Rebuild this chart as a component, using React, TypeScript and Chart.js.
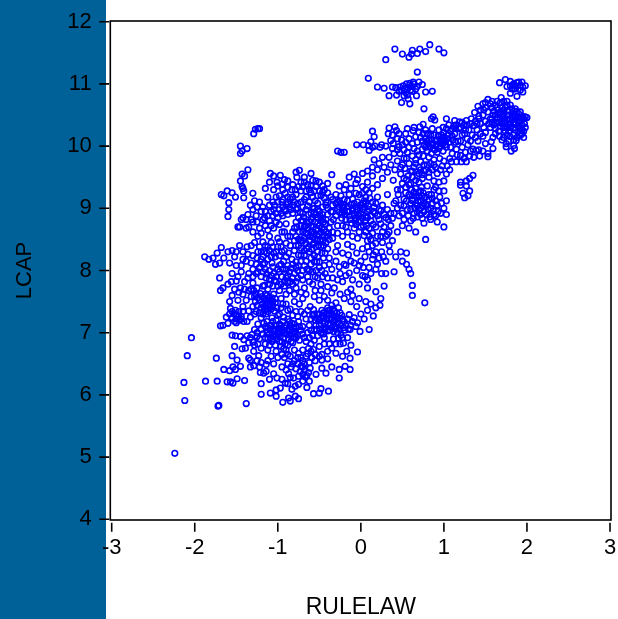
import React, { useEffect, useRef } from "react";
import { Chart, registerables } from "chart.js";

Chart.register(...registerables);

type P = [number, number];

const xTicks = [-3, -2, -1, 0, 1, 2, 3];
const yTicks = [4, 5, 6, 7, 8, 9, 10, 11, 12];

const lowLeft: P[] = [[-2.24,5.06],[-2.04,6.92],[-2.09,6.63],[-2.13,6.20],[-2.12,5.91],[-1.87,6.22],[-1.74,6.59],[-1.73,6.22],[-1.61,6.21],[-1.57,6.21],[-1.54,6.19],[-1.49,6.26],[-1.40,6.23],[-1.71,5.83],[-1.72,5.82],[-1.38,5.86],[-1.65,6.41],[-1.58,6.39],[-1.54,6.45],[-1.49,6.56],[-1.45,6.46],[-1.51,6.41],[-1.55,6.63],[-1.52,6.78],[-1.55,6.96],[-1.51,6.95],[-1.45,6.94],[-1.37,6.95],[-1.31,6.97],[-1.25,6.94],[-1.41,6.89],[-1.35,6.84],[-1.39,6.75],[-1.43,6.74],[-1.29,6.70],[-1.23,6.63],[-1.35,6.59],[-1.33,6.56],[-1.33,6.45],[-1.29,6.47],[-1.14,6.49],[-1.21,6.36],[-1.17,6.35],[-1.14,6.38],[-1.05,6.34],[-1.10,6.25],[-1.20,6.18],[-1.20,6.01],[-1.09,6.03],[-1.02,5.98],[-1.02,6.08],[-0.97,6.11],[-1.01,6.27],[-0.95,6.25],[-0.91,6.19],[-0.87,6.34],[-0.81,6.27],[-0.79,6.14],[-0.73,6.38],[-0.67,6.29],[-0.65,6.12],[-0.75,6.17],[-0.83,6.09],[-0.79,5.98],[-0.75,5.94],[-0.87,5.95],[-0.85,5.90],[-0.94,5.88],[-0.57,6.02],[-0.50,6.03],[-0.48,6.10],[-0.39,6.06],[-0.26,6.27],[-0.26,6.41],[-0.19,6.46],[-0.13,6.41],[-0.04,6.69],[-0.47,6.43],[-0.42,6.35],[-0.54,6.33],[-0.61,6.43],[-0.65,6.31],[-0.13,6.59],[-0.17,6.70],[-0.21,6.83],[-0.27,6.91],[-0.30,6.67],[-0.47,6.65],[-0.47,6.56],[-0.55,6.65],[-0.57,6.73],[-0.70,6.33],[-0.68,6.40],[-0.63,6.36],[-0.59,6.60],[-0.62,6.52],[-0.66,6.62],[-0.70,6.72],[-0.75,6.67],[-0.80,6.55],[-0.95,6.65],[-0.90,6.72],[-1.02,6.70],[-1.08,6.62],[-1.12,6.72],[-0.22,6.62],[-0.35,6.75],[-0.40,6.70],[-0.44,6.82]];

const midLow: P[] = [[-1.17,7.15],[-1.12,7.08],[-1.10,6.98],[-1.15,6.92],[-1.07,6.86],[-1.02,7.12],[-1.00,7.02],[-0.97,6.94],[-0.95,6.85],[-0.92,7.08],[-0.90,6.98],[-0.87,6.90],[-1.05,6.95],[-1.03,6.80],[-0.98,7.00],[-0.96,6.78],[-0.88,6.80],[-0.85,7.05],[-0.80,7.02],[-0.78,6.92],[-0.82,6.84],[-0.74,6.88],[-0.70,6.98],[-0.66,6.86],[-0.62,6.92],[-0.60,6.82],[-0.57,7.37],[-0.53,7.30],[-0.55,7.20],[-0.50,7.12],[-0.56,7.05],[-0.52,6.95],[-0.47,7.36],[-0.44,7.26],[-0.46,7.18],[-0.42,7.08],[-0.45,6.98],[-0.40,7.40],[-0.38,7.30],[-0.36,7.22],[-0.37,7.12],[-0.33,7.02],[-0.35,7.44],[-0.32,7.35],[-0.30,7.26],[-0.28,7.16],[-0.26,7.06],[-0.24,6.96],[-0.25,7.32],[-0.22,7.22],[-0.18,7.12],[-0.14,7.29],[-0.15,7.06],[-0.10,7.18],[-0.06,7.10],[-0.01,7.02],[0.10,7.05],[0.08,7.36],[0.15,7.27],[0.23,7.44],[0.04,7.22],[0.00,7.30],[-0.05,7.42],[-0.12,7.50],[-0.20,7.55],[-0.10,7.60],[-0.30,7.48],[-0.62,7.12],[-0.66,7.22],[-0.70,7.10],[-0.75,7.18],[-0.58,7.28],[-0.61,7.42],[-0.78,7.34],[-0.74,7.46],[-0.83,7.15],[-0.88,7.22],[-0.93,7.25],[-1.00,7.28],[-1.07,7.24],[-1.14,7.30],[-1.20,7.24],[-1.24,7.14],[-1.28,7.05],[-1.21,7.63],[-1.16,7.55],[-1.12,7.45],[-1.08,7.38],[-1.17,7.42],[-1.13,7.60],[-1.09,7.52],[-1.05,7.62],[-1.03,7.48],[-1.01,7.40],[-1.57,7.39],[-1.53,7.30],[-1.50,7.22],[-1.47,7.34],[-1.44,7.26],[-1.41,7.18],[-1.52,7.18],[-1.46,7.20],[-1.62,7.25],[-1.66,7.12],[-1.69,7.11],[-1.60,7.15],[-1.58,7.50],[-1.55,7.60],[-1.35,7.35],[-1.30,7.42],[-1.28,7.30],[-1.33,7.25],[-1.37,7.18],[-1.42,7.42],[-1.38,7.52],[-1.32,7.58],[-1.27,7.50],[-0.96,7.40],[-0.90,7.46],[-0.85,7.38],[-0.80,7.50],[-0.96,7.55],[-0.90,7.62],[-0.70,7.55],[-0.66,7.62],[-0.56,7.58],[-0.50,7.52],[-0.44,7.58],[-0.40,7.52],[-0.80,7.62]];

const midLowDense: P[] = [[-1.19,7.58],[-1.15,7.62],[-1.11,7.56],[-1.14,7.48],[-1.19,7.46],[-1.10,7.42],[-1.06,7.44],[-1.07,7.56],[-1.03,7.55],[-1.16,7.36],[-1.22,7.52],[-1.25,7.44],[-1.13,7.38],[-1.04,7.35],[-1.15,7.10],[-1.13,7.00],[-1.08,7.12],[-1.09,7.04],[-1.05,7.06],[-1.06,6.90],[-1.01,6.90],[-1.02,6.96],[-0.99,7.07],[-0.96,7.12],[-0.94,7.03],[-0.93,6.92],[-0.91,6.82],[-0.89,7.04],[-0.86,6.96],[-0.84,6.86],[-0.85,7.12],[-0.81,7.08],[-0.79,6.98],[-0.76,6.96],[-0.72,7.04],[-0.68,6.92],[-0.64,7.00],[-0.60,7.04],[-0.58,6.95],[-0.54,7.12],[-0.53,7.04],[-0.52,7.22],[-0.50,7.30],[-0.48,7.24],[-0.49,7.06],[-0.45,7.32],[-0.43,7.15],[-0.41,7.22],[-0.40,7.03],[-0.39,7.14],[-0.37,7.36],[-0.35,7.08],[-0.34,7.28],[-0.33,7.18],[-0.31,7.10],[-0.29,7.32],[-0.28,7.22],[-0.27,7.40],[-0.24,7.12],[-0.23,7.28],[-0.20,7.18],[-0.19,7.04],[-0.16,7.22],[-0.12,7.12],[-0.08,7.24],[-0.04,7.16],[-1.55,7.34],[-1.51,7.36],[-1.49,7.28],[-1.55,7.24],[-1.47,7.26],[-1.42,7.34],[-1.50,7.16],[-1.44,7.22],[-1.58,7.30],[-1.25,7.00],[-1.20,7.05],[-1.22,6.90],[-1.18,6.98],[-1.24,6.82],[-1.20,6.75],[-1.15,6.82],[-1.10,6.80],[-1.30,6.85],[-1.33,6.92],[-1.28,6.80],[-0.98,6.86],[-0.93,6.74],[-1.00,6.60],[-0.92,6.60],[-0.85,6.62],[-0.88,6.50],[-0.80,6.72],[-0.76,6.50],[-0.72,6.60],[-0.68,6.50],[-0.63,6.75],[-0.56,6.88],[-0.50,6.78],[-0.44,6.92],[-0.38,6.82],[-0.33,6.90],[-0.30,6.82],[-0.25,6.82],[-0.22,6.92],[-0.16,6.92],[-0.12,6.80],[-0.40,6.58],[-0.35,6.45],[-0.70,6.22],[-0.62,6.22],[-0.78,6.42],[-0.84,6.45],[-0.90,6.40],[-0.95,6.45],[-0.72,6.46],[-1.18,7.75],[-1.12,7.70],[-1.06,7.75],[-0.98,7.68],[-0.92,7.75],[-0.86,7.68],[-0.78,7.72],[-0.72,7.65],[-1.26,7.62],[-1.35,7.68],[-1.42,7.62],[-1.48,7.52],[-1.47,7.65]];

const centre: P[] = [[-1.68,8.37],[-1.73,8.28],[-1.78,8.20],[-1.83,8.18],[-1.88,8.22],[-1.70,8.12],[-1.65,8.20],[-1.75,8.10],[-1.60,8.30],[-1.55,8.32],[-1.50,8.30],[-1.46,8.40],[-1.42,8.30],[-1.37,8.38],[-1.32,8.40],[-1.28,8.45],[-1.50,8.08],[-1.44,8.08],[-1.38,8.15],[-1.70,7.88],[-1.55,7.95],[-1.50,7.83],[-1.45,7.72],[-1.52,7.70],[-1.60,7.78],[-1.66,7.72],[-1.69,7.68],[-1.40,7.82],[-1.35,7.95],[-1.30,8.02],[-1.25,8.20],[-1.20,8.30],[-1.15,8.40],[-1.10,8.32],[-1.05,8.28],[-1.00,8.38],[-0.95,8.30],[-0.90,8.22],[-0.85,8.40],[-0.80,8.32],[-0.75,8.25],[-1.30,7.80],[-1.25,7.72],[-1.20,7.90],[-1.15,8.02],[-1.10,7.85],[-1.05,7.95],[-1.00,7.75],[-0.95,7.90],[-0.90,8.02],[-0.85,7.82],[-0.80,7.95],[-0.75,8.08],[-0.70,7.85],[-0.65,8.02],[-0.60,8.20],[-0.55,7.90],[-0.50,8.05],[-0.45,8.20],[-0.40,7.88],[-0.35,8.02],[-0.30,8.15],[-0.25,7.95],[-0.20,8.10],[-0.15,8.25],[-0.10,7.85],[-0.05,8.00],[0.00,8.15],[0.05,7.90],[0.10,8.05],[0.15,8.25],[0.20,8.10],[0.25,7.95],[0.30,8.15],[0.35,8.30],[0.42,8.22],[0.50,8.15],[0.55,8.10],[0.58,8.02],[0.60,7.95],[0.62,7.76],[0.62,7.60],[0.77,7.48],[0.40,7.98],[-0.22,7.82],[-0.12,7.70],[-0.02,7.78],[0.08,7.72],[0.18,7.66],[0.28,7.75],[0.24,7.55],[-0.65,8.35],[-0.58,8.42],[-0.52,8.30],[-0.46,8.48],[-0.40,8.35],[-0.34,8.52],[-0.28,8.40],[-0.22,8.55],[-0.16,8.42],[-0.10,8.38],[-0.04,8.52],[0.02,8.35],[0.08,8.48],[0.14,8.40],[0.20,8.55],[0.26,8.45],[0.32,8.58],[0.38,8.48],[0.44,8.62],[-1.35,8.70],[-1.30,8.62],[-1.25,8.78],[-1.20,8.60],[-1.15,8.72],[-1.10,8.55],[-1.05,8.68],[-1.00,8.52],[-0.95,8.62],[-0.90,8.75],[-0.85,8.55],[-0.80,8.68],[-0.75,8.50],[-0.70,8.62],[-0.65,8.78],[-0.62,8.55],[-0.57,8.70],[-0.52,8.85],[-0.48,8.62],[-0.43,8.75],[-0.38,8.68],[-0.33,8.82],[-0.28,8.72],[-0.23,8.90],[-0.18,8.70],[-0.13,8.82],[-0.08,8.68],[-0.03,8.78],[0.02,8.85],[0.07,8.72],[0.12,8.80],[0.17,8.92],[0.24,8.75],[0.30,8.85],[0.36,8.72],[-0.75,8.85],[-0.70,8.80],[-0.68,8.70],[-0.63,8.90],[-0.60,8.82],[-0.58,8.62],[-0.72,8.72],[-0.55,8.78],[-0.66,8.60],[-0.50,8.72],[-0.46,8.90],[-0.42,8.82],[-0.06,8.85],[0.00,8.92],[0.05,8.80],[0.10,8.68],[0.03,8.72],[-0.02,8.62],[0.08,8.85],[-1.29,7.68],[-1.24,7.98],[-1.18,8.10],[-1.12,8.18],[-1.07,8.12],[-1.03,8.22],[-0.98,8.08],[-0.93,8.15],[-0.88,8.08],[-0.83,8.18],[-0.78,8.14],[-0.72,8.15],[-0.68,7.72],[-0.62,7.82],[-0.58,7.98],[-0.53,8.14],[-0.48,7.78],[-0.43,7.95],[-0.38,8.10],[-0.32,7.72],[-0.28,7.85],[-0.18,7.92],[-0.08,8.12],[0.03,8.05],[0.12,7.95]];

const centreDense: P[] = [[-1.08,7.92],[-1.04,7.84],[-1.00,8.02],[-0.96,8.10],[-0.92,7.82],[-0.88,7.92],[-0.84,8.04],[-0.82,7.88],[-0.78,7.82],[-0.76,8.00],[-0.72,7.92],[-0.68,8.08],[-0.64,7.90],[-1.13,7.94],[-1.16,8.12],[-1.22,8.05],[-1.26,8.10],[-1.32,8.12],[-1.36,8.26],[-1.42,8.18],[-1.30,8.24],[-1.18,8.22],[-1.22,8.38],[-1.13,8.28],[-1.08,8.22],[-0.98,8.24],[-0.92,8.32],[-0.87,8.28],[-0.78,8.40],[-0.72,8.36],[-0.68,8.25],[-0.62,8.30],[-0.56,8.24],[-0.60,8.10],[-0.52,8.22],[-0.48,8.38],[-0.43,8.28],[-0.38,8.20],[-0.66,8.44],[-0.62,8.48],[-0.58,8.54],[-0.54,8.38],[-0.52,8.48],[-0.50,8.58],[-0.46,8.55],[-0.42,8.62],[-0.64,8.68],[-0.60,8.72],[-0.56,8.60],[-0.54,8.66],[-0.48,8.80],[-0.44,8.66],[-0.40,8.90],[-0.36,8.78],[-0.74,8.62],[-0.78,8.78],[-0.70,8.92],[-0.66,8.98],[-0.60,8.92],[-0.56,9.00],[-0.54,8.90],[-0.50,8.95],[-0.46,8.84],[-0.42,9.05],[-0.36,8.95],[-0.34,9.05],[-0.30,8.88],[-0.26,8.94],[-0.24,9.08],[-0.20,8.95],[-0.18,8.82],[-0.14,8.94],[-0.12,9.06],[-0.08,8.90],[-0.06,9.02],[-0.02,8.88],[0.02,8.98],[0.06,9.08],[0.08,8.94],[0.12,8.88],[-0.84,8.98],[-0.90,8.96],[-0.96,8.92],[-1.02,8.92],[-1.08,8.95],[-1.12,8.88],[-0.78,8.98],[-0.72,9.10],[-0.68,9.14],[-0.62,9.10],[-0.58,9.18],[-0.52,9.08],[-0.50,9.28],[-0.44,9.16],[-0.40,9.25],[-0.34,9.14],[-0.30,9.22],[-0.26,9.12],[-0.20,9.14],[-0.16,9.12],[-0.10,9.15],[-0.06,9.24],[0.00,9.06],[0.02,9.24],[0.06,9.18],[-0.82,9.18],[-0.88,9.18],[-0.94,9.14],[-1.02,9.18],[-1.06,9.10],[-1.12,9.18],[-1.18,9.02],[-1.05,9.30],[-1.10,9.42],[-0.82,9.38],[-0.70,9.35],[-0.62,9.30],[-0.54,9.44],[-0.44,9.30],[-0.26,9.36],[-0.20,9.30],[-0.12,9.32],[-0.06,9.40],[0.06,9.30],[0.14,9.32],[0.22,8.82],[0.18,8.70],[0.14,8.60],[0.10,8.55],[0.04,8.56],[0.26,8.62],[0.30,8.55],[0.34,8.40],[0.25,8.30],[0.18,8.30],[0.10,8.30],[0.05,8.22],[-0.05,8.28],[-0.12,8.15],[-0.22,8.28],[-0.30,8.30],[-0.18,8.08],[0.30,7.95],[-0.10,8.55],[-0.16,8.62],[-0.22,8.72],[-0.28,8.60],[-0.34,8.62],[-0.38,8.50],[-1.48,8.70],[-1.44,8.82],[-1.30,8.78],[-1.22,8.68],[-1.18,8.82],[-1.12,8.65],[-1.08,8.72],[-1.02,8.78],[-0.98,8.74],[-0.92,8.62],[-0.88,8.55],[-0.82,8.62],[-0.78,8.55],[-1.24,8.55],[-1.18,8.46],[-1.08,8.45],[-0.98,8.46],[-0.90,8.44],[-0.80,8.48],[-0.72,8.48],[-1.44,7.98],[-1.48,7.90],[-1.36,7.88],[-1.32,7.70],[-1.40,7.70],[-1.56,7.82],[-1.52,8.22],[-1.58,8.12]];

const coreFill: P[] = [[-0.68,8.52],[-0.64,8.58],[-0.60,8.62],[-0.55,8.50],[-0.53,8.56],[-0.51,8.40],[-0.49,8.50],[-0.47,8.68],[-0.45,8.40],[-0.42,8.45],[-0.41,8.55],[-0.39,8.60],[-0.63,8.38],[-0.59,8.34],[-0.56,8.44],[-0.50,8.14],[-0.47,8.28],[-0.56,8.14],[-0.62,8.00],[-0.54,8.00],[-0.47,8.00],[-0.44,8.08],[-0.70,8.00],[-0.72,8.24],[-0.75,8.40],[-0.70,8.48],[-0.68,8.32],[-0.66,8.15],[-0.77,8.70],[-0.72,8.80],[-0.69,8.86],[-0.67,8.72],[-0.62,8.78],[-0.58,8.86],[-0.56,8.94],[-0.52,8.76],[-0.49,8.88],[-0.45,8.78],[-0.95,9.10],[-0.92,8.98],[-0.86,9.02],[-0.80,9.10],[-0.76,9.00],[-0.73,8.94],[-1.04,9.05],[-0.98,8.98],[-0.90,9.06],[-0.85,9.15],[-0.79,9.30],[-0.75,9.35],[-0.68,9.42],[-0.66,9.28],[-0.60,9.36],[-0.56,9.28],[-0.52,9.20],[-0.46,9.26],[-0.94,9.30],[-0.88,9.34],[-0.92,9.46],[-1.00,9.36],[-0.28,9.10],[-0.26,9.02],[-0.23,8.84],[-0.21,9.02],[-0.19,8.90],[-0.16,9.03],[-0.14,8.88],[-0.11,8.76],[-0.10,8.96],[-0.07,8.80],[-0.04,8.90],[-0.04,9.10],[-0.01,9.00],[0.00,8.80],[0.03,9.08],[0.06,8.88],[0.09,9.04],[0.11,9.16],[0.15,8.95],[0.18,9.08],[0.20,8.88],[0.24,8.96],[0.15,8.74],[0.06,8.62],[0.00,8.70],[-0.06,8.74],[0.12,8.50],[0.18,8.44],[0.24,8.55],[0.28,8.70],[0.34,8.62],[0.33,8.82],[0.36,8.92],[0.38,8.84],[0.08,8.38],[0.14,8.18],[0.22,8.20],[0.27,8.22],[-1.30,7.90],[-1.26,7.95],[-1.18,7.98],[-1.14,7.88],[-1.10,8.00],[-1.06,8.06],[-1.02,7.90],[-0.98,7.98],[-0.94,8.02],[-0.90,7.88],[-0.86,7.98],[-0.82,8.10],[-0.78,8.05],[-1.24,8.30],[-1.20,8.18],[-1.16,8.30],[-1.12,8.38],[-1.06,8.38],[-1.02,8.30],[-0.96,8.38],[-1.16,7.76],[-1.10,7.78],[-1.02,7.82],[-0.96,7.78],[-0.88,7.80],[-0.82,7.78],[-0.76,7.88],[-1.28,7.58],[-1.24,7.56],[-1.20,7.40],[-1.15,7.52],[-1.12,7.52],[-1.09,7.46],[-1.06,7.50],[-1.12,7.34],[-1.26,7.34],[-1.22,7.32],[-1.18,7.30],[-0.98,7.30],[-0.94,7.46],[-0.88,7.36],[-0.82,7.28],[-0.76,7.26],[-0.72,7.34],[-0.68,7.30],[-0.64,7.36],[-0.60,7.22],[-0.56,7.30],[-1.13,7.18],[-1.10,7.12],[-1.06,7.18],[-1.02,7.20],[-0.98,7.14],[-0.94,7.18],[-0.90,7.12],[-0.86,7.18],[-0.80,7.14],[-1.12,6.90],[-1.09,6.92],[-1.04,7.02],[-1.00,6.98],[-0.97,7.06],[-0.92,7.00],[-0.87,7.02],[-0.83,6.98],[-0.82,6.92],[-0.78,7.08],[-0.74,7.10],[-0.50,7.20],[-0.46,7.26],[-0.44,7.32],[-0.41,7.30],[-0.38,7.22],[-0.35,7.30],[-0.32,7.26],[-0.31,7.20],[-0.39,7.36],[-0.34,7.38],[-0.30,7.06],[-0.37,7.04],[-0.44,7.04],[-0.48,7.00],[-0.28,7.00],[-0.21,7.08],[-0.13,7.05],[0.18,7.40],[0.12,7.46],[0.06,7.50],[-0.02,7.55],[-0.16,7.65],[-0.25,7.62],[-0.35,7.64],[-0.55,7.68],[-0.48,7.68],[-0.40,7.74],[-0.58,7.78],[-0.52,7.88],[-0.46,7.90],[-0.34,7.88],[-0.26,8.06],[-0.14,7.96],[-0.02,8.08],[0.02,7.92],[0.18,8.02],[0.08,7.85],[0.55,8.28],[0.48,8.30],[-0.88,6.65],[-0.82,6.50],[-0.76,6.60],[-0.70,6.55],[-0.64,6.66],[-0.60,6.70],[-0.55,6.55],[-0.50,6.62],[-0.75,6.30],[-0.70,6.45],[-0.88,6.18],[-0.85,6.28],[-1.12,6.55],[-1.05,6.50],[-1.20,6.52],[-1.25,6.55],[-1.22,6.45],[0.62,9.14],[0.66,9.08],[0.64,9.26],[0.70,9.18],[0.72,9.28],[0.74,9.20],[0.78,9.06],[0.82,9.22],[0.86,9.16],[0.70,8.98],[0.74,9.04],[0.60,9.40],[0.55,9.46],[0.68,9.52],[0.62,9.60],[0.72,9.62],[0.66,9.72],[0.76,9.70],[0.74,9.54],[0.82,9.58],[0.88,9.70],[1.14,10.28],[1.02,10.02],[0.96,10.10],[0.90,10.00],[0.86,10.02],[0.82,10.10],[0.78,9.98],[1.76,10.50],[1.84,10.44],[1.72,10.44],[1.80,10.36],[1.68,10.54],[1.90,10.38],[1.86,10.48],[1.62,10.50],[1.92,10.46],[1.58,10.38],[1.94,10.26],[1.76,10.30],[1.70,10.36]];

const upperMid: P[] = [[-1.36,9.62],[-1.43,9.55],[-1.40,9.52],[-1.45,9.44],[-1.42,9.32],[-1.43,9.35],[-1.41,9.28],[-1.68,9.22],[-1.61,9.28],[-1.55,9.25],[-1.65,9.20],[-1.51,9.18],[-1.41,9.17],[-1.30,9.24],[-1.15,9.32],[-1.59,9.09],[-1.59,8.98],[-1.60,8.87],[-1.09,9.56],[-1.05,9.52],[-0.97,9.53],[-1.01,9.42],[-0.95,9.39],[-0.88,9.44],[-0.98,9.20],[-0.91,9.24],[-0.78,9.58],[-0.74,9.61],[-0.77,9.50],[-0.60,9.56],[-0.35,9.54],[-0.72,9.42],[-0.68,9.50],[-0.64,9.38],[-0.58,9.45],[-0.54,9.35],[-0.50,9.42],[-0.46,9.36],[-0.40,9.40],[-0.83,9.30],[-0.78,9.22],[-0.72,9.28],[-0.66,9.18],[-0.60,9.25],[-0.55,9.12],[-0.48,9.20],[-0.42,9.10],[-0.36,9.18],[-0.30,9.08],[-0.24,9.20],[-0.18,9.38],[-0.14,9.50],[-0.08,9.55],[-0.04,9.46],[0.02,9.35],[0.08,9.42],[0.14,9.52],[0.20,9.38],[0.26,9.48],[0.10,9.25],[0.04,9.12],[-0.02,9.22],[-0.08,9.08],[-0.14,9.22],[-0.20,9.05],[0.14,9.10],[0.20,9.18],[0.26,9.05],[0.32,9.22],[0.32,8.98],[0.28,8.90],[0.22,8.98],[0.16,9.02],[0.10,8.98],[0.04,9.02],[-0.04,8.98],[-0.10,9.00],[-0.16,8.95],[-0.22,9.00],[-0.28,8.98],[-0.34,8.94],[-0.40,9.00],[-0.46,9.02],[-0.52,8.98],[-0.58,9.00],[-0.64,9.04],[-0.70,9.02],[-0.76,9.08],[-0.82,9.05],[-0.88,9.10],[-0.94,9.02],[-1.00,9.10],[-1.05,8.98],[-1.10,9.05],[-1.15,8.95],[-0.88,8.90],[-0.82,8.92],[-0.94,8.88],[-1.00,8.85],[-1.28,9.12],[-1.22,9.10],[-1.25,9.02],[-1.30,8.98],[-1.36,8.90],[-1.42,8.85],[-1.33,9.05],[-1.38,8.82],[-1.46,8.70],[-1.38,8.68],[-1.32,8.82],[-1.26,8.88],[-1.20,8.95],[-1.16,8.85],[-1.10,8.80],[-1.06,8.88],[-1.45,10.0],[-1.27,10.27],[-1.24,10.28],[-1.29,10.20],[-1.22,10.28],[-1.45,9.88],[-1.43,9.92],[-1.37,9.96],[-0.28,9.92],[-0.24,9.90],[-0.20,9.90],[0.03,10.02],[0.09,10.01],[0.16,10.15],[0.14,10.24],[0.12,10.07],[0.10,9.93],[0.23,9.98],[0.25,10.02],[0.17,10.00],[0.14,9.98],[-0.05,10.02]];

const rightBlock: P[] = [[0.39,9.45],[0.44,9.30],[0.50,9.40],[0.54,9.25],[0.58,9.38],[0.62,9.20],[0.66,9.32],[0.70,9.42],[0.75,9.25],[0.80,9.36],[0.85,9.22],[0.90,9.34],[0.95,9.18],[1.00,9.28],[1.03,9.12],[0.42,9.12],[0.48,9.05],[0.52,9.15],[0.56,8.98],[0.60,9.08],[0.64,8.92],[0.68,9.04],[0.72,9.12],[0.76,8.95],[0.80,9.05],[0.84,9.00],[0.88,8.90],[0.92,9.05],[0.96,8.92],[1.00,9.00],[0.40,8.92],[0.46,8.88],[0.52,8.82],[0.60,8.80],[0.68,8.86],[0.76,8.76],[0.84,8.82],[0.92,8.78],[1.00,8.70],[0.78,8.50],[0.66,8.62],[0.58,8.68],[0.50,8.72],[0.90,8.88],[0.72,8.90],[1.03,8.90],[0.62,9.50],[0.70,9.56],[0.78,9.62],[0.48,9.55],[0.53,9.64],[0.58,9.72],[0.64,9.66],[0.72,9.75],[0.80,9.70],[0.86,9.62],[0.92,9.56],[0.98,9.68],[1.03,9.55],[0.47,9.88],[0.52,9.80],[0.56,9.90],[0.62,9.84],[0.68,9.92],[0.50,9.70],[0.44,9.76],[0.41,9.62],[0.36,9.70],[0.32,9.58],[0.28,9.66],[0.22,9.72],[0.34,10.29],[0.41,10.31],[0.33,10.20],[0.43,10.25],[0.36,10.09],[0.39,10.04],[0.38,9.96],[0.46,9.99],[0.49,10.10],[0.56,10.28],[0.63,10.25],[0.71,10.31],[0.75,10.35],[0.85,10.44],[0.87,10.47],[0.89,10.42],[0.58,10.12],[0.62,10.04],[0.54,10.20],[0.66,10.15],[0.70,10.22],[0.74,10.08],[0.75,10.20],[0.78,10.12],[0.81,10.04],[0.84,10.18],[0.87,9.96],[0.90,10.08],[0.93,10.16],[0.96,10.00],[0.99,9.92],[1.02,10.08],[1.05,10.18],[1.08,9.98],[1.11,10.10],[0.80,9.92],[0.85,9.88],[0.92,9.90],[0.98,10.12],[0.94,10.26],[0.99,10.30],[1.03,10.28],[1.08,10.24],[1.13,10.20],[1.03,10.44],[1.13,10.41],[1.19,10.39],[1.27,10.41],[1.33,10.44],[1.18,10.28],[1.24,10.33],[1.30,10.26],[1.36,10.33],[1.22,10.18],[1.17,10.08],[1.28,10.12],[1.34,10.18],[1.40,10.26],[1.44,10.36],[1.15,9.95],[1.22,9.98],[1.29,10.02],[1.35,9.95],[1.41,10.08],[1.47,10.16],[1.20,9.85],[1.26,9.90],[1.59,10.14],[1.57,10.07],[1.59,9.96],[1.53,9.88],[1.53,9.83],[1.43,9.84],[1.47,9.92],[1.39,9.93],[1.31,9.84],[1.27,9.75],[1.21,9.75],[1.15,9.75],[1.07,9.62],[1.04,9.68],[1.09,9.75],[1.35,9.53],[1.31,9.48],[1.27,9.44],[1.20,9.42],[1.20,9.37],[1.27,9.36],[1.31,9.28],[1.23,9.24],[1.29,9.20],[1.25,9.17]];

const rightDense: P[] = [[0.40,9.08],[0.44,9.00],[0.45,9.22],[0.48,9.30],[0.50,8.92],[0.52,9.04],[0.54,9.34],[0.55,9.12],[0.57,8.88],[0.58,9.22],[0.60,8.98],[0.61,9.30],[0.62,9.12],[0.63,8.84],[0.65,9.00],[0.66,9.20],[0.68,8.94],[0.69,9.12],[0.70,9.26],[0.72,9.00],[0.73,9.34],[0.74,8.84],[0.76,9.08],[0.78,9.18],[0.79,8.90],[0.81,8.98],[0.82,9.14],[0.83,8.86],[0.86,9.08],[0.87,8.96],[0.88,9.30],[0.90,9.12],[0.93,8.95],[0.94,9.28],[0.97,9.08],[0.52,9.48],[0.57,9.52],[0.66,9.45],[0.74,9.48],[0.82,9.50],[0.88,9.44],[0.94,9.42],[1.00,9.44],[0.48,9.66],[0.55,9.80],[0.60,9.60],[0.66,9.78],[0.70,9.66],[0.75,9.84],[0.76,9.60],[0.82,9.82],[0.84,9.72],[0.88,9.78],[0.90,9.66],[0.95,9.80],[0.96,9.62],[1.00,9.76],[0.70,9.86],[0.74,9.95],[0.76,10.02],[0.80,10.08],[0.83,9.98],[0.85,10.10],[0.87,10.04],[0.89,9.94],[0.91,10.02],[0.92,10.10],[0.94,9.96],[0.95,10.06],[0.97,10.18],[0.99,10.04],[1.00,10.14],[1.03,9.98],[1.04,10.12],[1.06,10.06],[0.88,10.18],[0.80,10.20],[0.72,10.14],[0.68,10.06],[0.64,9.96],[0.58,9.98],[0.52,9.94],[1.10,10.28],[1.15,10.34],[1.20,10.30],[1.22,10.38],[1.26,10.26],[1.28,10.34],[1.32,10.36],[1.38,10.40],[1.40,10.36],[1.42,10.44],[1.12,10.32],[1.06,10.34],[1.00,10.22],[1.10,10.16],[1.14,10.06],[1.20,10.08],[1.25,10.20],[1.32,10.08],[1.38,10.14],[1.44,10.20],[1.48,10.30],[1.50,10.22],[1.54,10.36],[1.10,9.88],[1.16,9.86],[1.24,9.80],[1.36,9.82],[1.42,9.94],[1.50,10.04],[1.32,9.92],[1.07,9.80],[0.20,9.62],[0.14,9.66],[0.08,9.60],[0.02,9.56],[0.16,9.78],[0.26,9.82],[0.34,9.82],[0.40,9.88],[0.44,9.94],[0.30,10.0],[0.38,10.18],[0.44,10.12],[0.50,10.02],[0.54,10.06],[0.46,10.20],[0.64,10.30],[0.78,10.26],[0.86,10.28]];

const topRight: P[] = [[0.41,11.56],[0.50,11.48],[0.58,11.43],[0.62,11.54],[0.61,11.48],[0.68,11.49],[0.71,11.56],[0.78,11.52],[0.83,11.63],[0.94,11.56],[1.00,11.50],[0.30,11.39],[0.68,11.19],[0.09,11.09],[0.20,10.95],[0.28,10.93],[0.38,10.95],[0.42,10.94],[0.47,10.95],[0.51,10.97],[0.55,11.00],[0.59,11.01],[0.63,11.03],[0.70,11.03],[0.74,10.99],[0.49,10.90],[0.53,10.92],[0.57,10.94],[0.61,10.96],[0.34,10.81],[0.43,10.82],[0.52,10.81],[0.67,10.81],[0.78,10.87],[0.86,10.88],[0.49,10.70],[0.59,10.68],[0.57,10.76],[0.76,10.60],[1.67,11.02],[1.74,11.07],[1.80,11.04],[1.80,10.97],[1.86,10.97],[1.90,11.03],[1.94,11.03],[1.98,10.97],[1.95,10.95],[1.84,10.92],[1.80,10.85],[1.88,10.80],[1.95,10.87],[1.88,11.02],[1.82,10.92],[1.37,10.54],[1.41,10.64],[1.47,10.68],[1.53,10.75],[1.69,10.78],[1.76,10.72],[1.44,10.58],[1.50,10.62],[1.56,10.68],[1.62,10.66],[1.68,10.70],[1.74,10.62],[1.80,10.66],[1.86,10.60],[1.92,10.55],[1.47,10.50],[1.53,10.55],[1.59,10.50],[1.65,10.58],[1.71,10.52],[1.77,10.56],[1.83,10.50],[1.89,10.46],[1.95,10.48],[1.98,10.47],[2.00,10.46],[1.50,10.40],[1.56,10.44],[1.62,10.38],[1.68,10.44],[1.74,10.36],[1.80,10.42],[1.86,10.35],[1.92,10.40],[1.97,10.36],[1.56,10.30],[1.62,10.28],[1.68,10.32],[1.74,10.24],[1.80,10.30],[1.86,10.26],[1.92,10.28],[1.96,10.24],[1.67,10.16],[1.75,9.99],[1.81,9.92],[1.85,9.96],[1.96,10.14],[1.75,10.04],[1.84,10.01],[1.87,10.09],[1.92,10.17],[1.80,10.15],[1.70,10.10],[1.76,10.18],[1.84,10.18]];

const topRightDense: P[] = [[1.58,10.62],[1.64,10.62],[1.70,10.62],[1.76,10.66],[1.82,10.60],[1.88,10.56],[1.60,10.56],[1.66,10.52],[1.72,10.58],[1.78,10.50],[1.84,10.56],[1.90,10.52],[1.96,10.44],[1.58,10.44],[1.64,10.46],[1.70,10.48],[1.76,10.44],[1.82,10.46],[1.88,10.42],[1.94,10.34],[1.60,10.34],[1.66,10.38],[1.72,10.40],[1.78,10.34],[1.84,10.38],[1.90,10.32],[1.66,10.24],[1.72,10.30],[1.78,10.24],[1.84,10.30],[1.90,10.24],[1.98,10.30],[1.62,10.20],[1.72,10.14],[1.78,10.08],[1.88,10.14],[1.94,10.20],[1.84,10.10],[1.76,10.96],[1.84,11.00],[1.92,10.98],[1.86,10.92],[1.92,10.90],[1.48,10.58],[1.42,10.48],[1.50,10.70],[1.58,10.72],[1.64,10.72],[1.72,10.72],[0.54,10.86],[0.56,10.82],[0.62,10.88],[0.66,10.92],[0.46,10.88],[0.60,10.90],[0.68,10.96],[0.64,11.00]];

const series: P[][] = [lowLeft, midLow, midLowDense, centre, centreDense, coreFill, upperMid, rightBlock, rightDense, topRight, topRightDense];

const frame = {
  id: "frame",
  afterDatasetsDraw(chart: any) {
    const { ctx, chartArea: a, scales } = chart;
    ctx.save();
    ctx.strokeStyle = "#000";
    ctx.lineWidth = 1.6;
    ctx.strokeRect(a.left - 1.4, a.top - 0.7, a.right - a.left + 2.4, a.bottom - a.top + 1.4);
    ctx.beginPath();
    for (const v of xTicks) {
      const px = scales.x.getPixelForValue(v);
      ctx.moveTo(px, a.bottom + 3.4);
      ctx.lineTo(px, a.bottom + 12.4);
    }
    for (const v of yTicks) {
      const py = scales.y.getPixelForValue(v);
      ctx.moveTo(a.left - 12.4, py);
      ctx.lineTo(a.left - 2.4, py);
    }
    ctx.stroke();
    ctx.restore();
  },
};

export default function App() {
  const ref = useRef<HTMLCanvasElement>(null);
  useEffect(() => {
    const font = { family: "'Liberation Sans', Arial, sans-serif", size: 22 };
    const chart = new Chart(ref.current!, {
      type: "scatter",
      data: {
        datasets: series.map((s) => ({
          data: s.map(([x, y]) => ({ x, y })),
          pointStyle: "circle",
          pointRadius: 2.8,
          pointBorderWidth: 1.6,
          pointBorderColor: "#0000ff",
          pointBackgroundColor: "rgba(0,0,0,0)",
          showLine: false,
        })),
      },
      options: {
        responsive: false,
        animation: false,
        layout: { padding: { left: 0, top: 21.7, right: 8, bottom: 0 } },
        plugins: { legend: { display: false }, tooltip: { enabled: false } },
        scales: {
          x: {
            type: "linear",
            min: -3,
            max: 3,
            afterFit: (s: any) => { s.height = 99.7; s.paddingLeft = 0; s.paddingRight = 0; },
            afterBuildTicks: (s: any) => { s.ticks = xTicks.map((value) => ({ value })); },
            grid: { display: false, drawTicks: false },
            border: { display: false },
            ticks: { color: "#000", font, padding: 15, maxRotation: 0, autoSkip: false },
            title: { display: true, text: "RULELAW", color: "#000", font: { ...font, size: 23 }, padding: { top: 0, bottom: -2 } },
          },
          y: {
            type: "linear",
            min: 4,
            max: 12,
            afterFit: (s: any) => { s.width = 111.7; s.paddingTop = 0; s.paddingBottom = 0; },
            afterBuildTicks: (s: any) => { s.ticks = yTicks.map((value) => ({ value })); },
            grid: { display: false, drawTicks: false },
            border: { display: false },
            ticks: { color: "#000", font, padding: 20, autoSkip: false },
            title: { display: true, text: "LCAP", color: "#000", font, padding: { top: 12, bottom: 0 } },
          },
        },
      },
      plugins: [frame],
    } as any);
    return () => chart.destroy();
  }, []);
  return (
    <div style={{ position: "fixed", inset: 0, background: "#fff" }}>
      <div style={{ position: "absolute", left: 0, top: 0, width: 106, height: 619, background: "#006098" }} />
      <canvas ref={ref} width={618} height={619} style={{ position: "absolute", left: 0, top: 0, display: "block" }} />
    </div>
  );
}
